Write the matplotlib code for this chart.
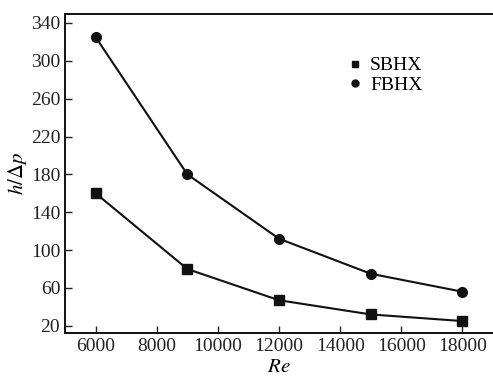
import matplotlib.pyplot as plt
from matplotlib.lines import Line2D

plt.rcParams['font.family'] = ['Liberation Serif', 'DejaVu Serif']
plt.rcParams['mathtext.fontset'] = 'stix'

re = [6000, 9000, 12000, 15000, 18000]
sbhx = [160, 80, 47, 32, 25]
fbhx = [325, 180, 112, 75, 56]
xticks = [6000, 8000, 10000, 12000, 14000, 16000, 18000]
yticks = [20, 60, 100, 140, 180, 220, 260, 300, 340]

fig = plt.figure(figsize=(4.93, 3.77), dpi=100)
ax = fig.add_axes([0.132, 0.117, 0.868, 0.846])

ax.plot(re, sbhx, color='#111111', lw=1.5, marker='s', ms=7, label='SBHX')
ax.plot(re, fbhx, color='#111111', lw=1.5, marker='o', ms=7, label='FBHX')

ax.set_xlim(5000, 19000)
ax.set_ylim(12.5, 349.5)
ax.set_xticks(xticks)
ax.set_yticks(yticks)
ax.tick_params(direction='in', length=5, width=1, labelsize=14, colors='#222222')
for s in ax.spines.values():
    s.set_linewidth(1.4)
    s.set_color('#111111')
ax.spines['right'].set_visible(False)

ax.set_xlabel('$Re$', fontsize=15, labelpad=2)
ax.set_ylabel(r'$h/\Delta p$', fontsize=15, labelpad=1)

handles = [Line2D([], [], ls='none', marker='s', ms=5, color='#111111'),
           Line2D([], [], ls='none', marker='o', ms=5, color='#111111')]
ax.legend(handles, ['SBHX', 'FBHX'], loc='upper left', bbox_to_anchor=(0.64, 0.89),
          frameon=False, fontsize=14, handlelength=0.8, handletextpad=0.4,
          labelspacing=0.1, borderaxespad=0)

fig.savefig('out.png', dpi=100)
